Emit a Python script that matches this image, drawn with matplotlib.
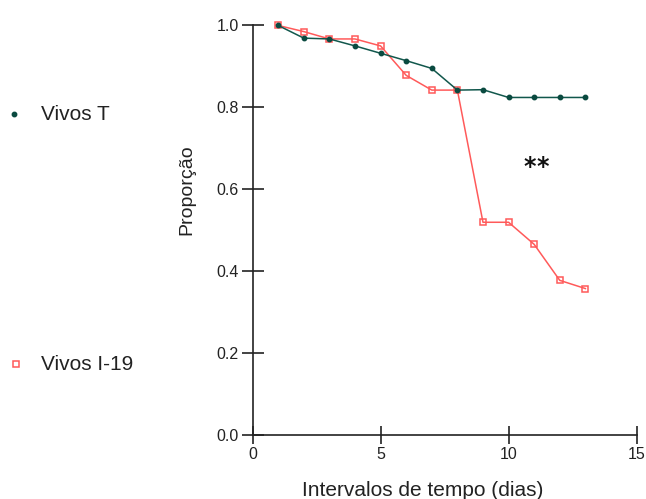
import numpy as np
import matplotlib
matplotlib.use("Agg")
import matplotlib.pyplot as plt

plt.rcParams['font.family'] = ['Liberation Sans', 'DejaVu Sans']

days = [1, 2, 3, 4, 5, 6, 7, 8, 9, 10, 11, 12, 13]
vivos_t = [1.0, 0.969, 0.967, 0.950, 0.932, 0.914, 0.895, 0.842, 0.843, 0.824, 0.824, 0.824, 0.824]
vivos_i19 = [1.0, 0.985, 0.967, 0.967, 0.950, 0.878, 0.842, 0.842, 0.519, 0.519, 0.465, 0.377, 0.357]
xticks = [0, 5, 10, 15]
yticks = [0.0, 0.2, 0.4, 0.6, 0.8, 1.0]

green = '#11574c'
red = '#ff5a5a'

fig = plt.figure(figsize=(6.46, 4.99), dpi=100)
ax = fig.add_axes([0.391, 0.129, 0.5944, 0.82])

ax.plot(days, vivos_t, color=green, lw=1.1, marker='o', ms=3.2,
        mfc='#0a4a40', mec='#0a4a40', clip_on=False, zorder=3)
ax.plot(days, vivos_i19, color=red, lw=1.1, marker='s', ms=5,
        mfc='none', mec=red, mew=1.1, clip_on=False, zorder=2)

ax.set_xlim(0, 15)
ax.set_ylim(0, 1)
ax.set_xticks(xticks)
ax.set_yticks(yticks)
ax.set_yticklabels(['%.1f' % v for v in yticks])
for s in ['top', 'right']:
    ax.spines[s].set_visible(False)
for s in ['left', 'bottom']:
    ax.spines[s].set_linewidth(1.2)
    ax.spines[s].set_color('#222222')
ax.tick_params(axis='y', direction='inout', length=16, width=1.2, labelsize=11.5, pad=2, colors='#222222')
ax.tick_params(axis='x', direction='inout', length=13.5, width=1.2, labelsize=11.5, pad=2, colors='#222222')

# significance mark
for xs in (10.83, 11.34):
    ax.text(xs, 0.655, '*', fontsize=17, fontweight='bold', family='DejaVu Sans',
            ha='center', va='center', color='#111111')

fig.text(187 / 646, 1 - 190 / 499, 'Proporção', rotation=90, fontsize=14,
         ha='center', va='center', color='#222222')
fig.text(423 / 646, 1 - 490 / 499, 'Intervalos de tempo (dias)', fontsize=15,
         ha='center', va='center', color='#222222')

# left-side legend
fig.lines.append(plt.Line2D([14 / 646], [1 - 114 / 499], transform=fig.transFigure,
                            marker='o', ms=3.2, color='#0a4a40', ls='none'))
fig.text(41 / 646, 1 - 114 / 499, 'Vivos T', fontsize=15, va='center', color='#222222')
fig.lines.append(plt.Line2D([16 / 646], [1 - 364 / 499], transform=fig.transFigure,
                            marker='s', ms=5, mfc='none', mec=red, mew=1.1, ls='none'))
fig.text(41 / 646, 1 - 364 / 499, 'Vivos I-19', fontsize=15, va='center', color='#222222')

fig.savefig('out.png', dpi=100)
